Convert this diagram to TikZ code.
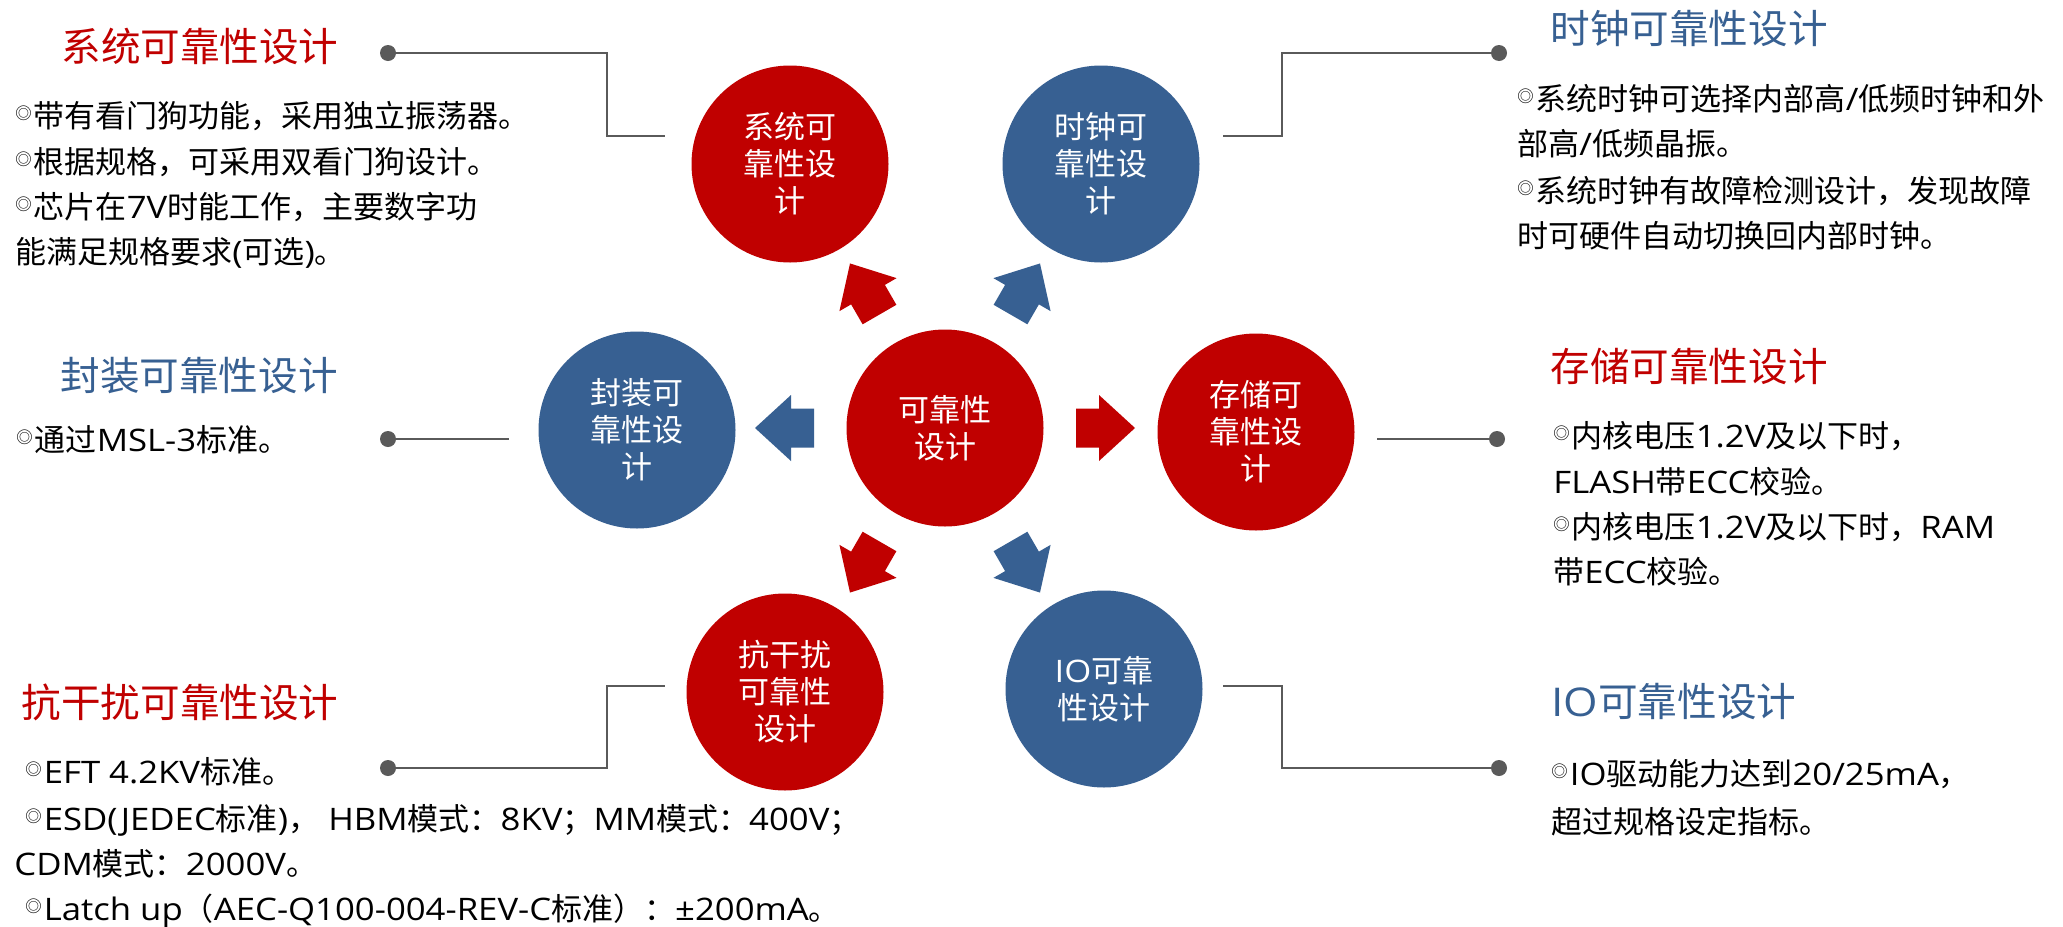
\documentclass[tikz,border=0pt]{standalone}
\usepackage{fontspec}
\setmainfont{Noto Sans CJK SC}
\newfontfamily\latf[FakeStretch=1.12]{Open Sans}
\newcommand{\lat}[1]{{\latf #1}}
\definecolor{myred}{HTML}{C00000}
\definecolor{myblue}{HTML}{376092}
\definecolor{conn}{HTML}{5A5A5A}
\newcommand{\bul}{\raisebox{3.8pt}{\fontsize{8.2pt}{8.2pt}\selectfont ◎}\kern1pt}
\begin{document}
\begin{tikzpicture}[x=0.5pt,y=-0.5pt,
 circ/.style={circle, minimum size=98.5pt, inner sep=0pt, text=white, align=center, font=\fontsize{15.5pt}{18.5pt}\selectfont},
 redc/.style={circ, fill=myred},
 bluec/.style={circ, fill=myblue},
 head/.style={inner sep=0pt, font=\fontsize{19.8pt}{24pt}\selectfont},
 body/.style={inner sep=0pt, anchor=base west, font=\fontsize{15.5pt}{18pt}\selectfont, text=black},
 dotnode/.style={circle, fill=conn, minimum size=8pt, inner sep=0pt},
 link/.style={draw=conn, line width=1.4pt},
]
\useasboundingbox[fill=white] (0,0) rectangle (2063,927);

% circles
\node[redc] (sys) at (790,164) {系统可\\靠性设\\计};
\node[bluec] (clk) at (1101,164) {时钟可\\靠性设\\计};
\node[bluec] (pkg) at (637,430) {封装可\\靠性设\\计};
\node[redc] (c) at (945,428) {可靠性\\设计};
\node[redc] (mem) at (1256,432) {存储可\\靠性设\\计};
\node[redc] (emi) at (785,692) {抗干扰\\可靠性\\设计};
\node[bluec] (io) at (1104,689) {\lat{IO}可靠\\性设计};

% block arrows
\foreach \a/\col in {0/myred,60/myblue,120/myred,180/myblue,240/myred,300/myblue}{
  \fill[\col, shift={(c.center)}, rotate=\a] (131,-19.5) -- (154,-19.5) -- (154,-33) -- (190,0) -- (154,33) -- (154,19.5) -- (131,19.5) -- cycle;
}

% connectors
\node[dotnode] (d1) at (388,53) {};
\coordinate (e1) at (665,136);
\draw[link] (d1.center) -- ++(219,0) |- (e1);

\node[dotnode] (d2) at (1499,53) {};
\coordinate (e2) at (1223,136);
\draw[link] (e2) -- ++(59,0) |- (d2.center);

\node[dotnode] (d3) at (388,439) {};
\coordinate (e3) at (509,439);
\draw[link] (d3.center) -- (e3);

\node[dotnode] (d4) at (1497,439) {};
\coordinate (e4) at (1377,439);
\draw[link] (e4) -- (d4.center);

\node[dotnode] (d5) at (388,768) {};
\coordinate (e5) at (665,686);
\draw[link] (d5.center) -- ++(219,0) |- (e5);

\node[dotnode] (d6) at (1499,768) {};
\coordinate (e6) at (1223,686);
\draw[link] (e6) -- ++(59,0) |- (d6.center);

% system block
\node[head, text=myred, anchor=base east] (h1) at (339,61) {系统可靠性设计};
\node[body] (b1a) at (15,127) {\bul 带有看门狗功能，采用独立振荡器。};
\node[body] (b1b) at (15,173) {\bul 根据规格，可采用双看门狗设计。};
\node[body] (b1c) at (15,218.5) {\bul 芯片在\lat{7V}时能工作，主要数字功};
\node[body] (b1d) at (15,263.5) {能满足规格要求\lat{(}可选\lat{)}。};

% clock block
\node[head, text=myblue, anchor=base west] (h2) at (1550,43.5) {时钟可靠性设计};
\node[body] (b2a) at (1517,110) {\bul 系统时钟可选择内部高\lat{/}低频时钟和外};
\node[body] (b2b) at (1517,155) {部高\lat{/}低频晶振。};
\node[body] (b2c) at (1517,202) {\bul 系统时钟有故障检测设计，发现故障};
\node[body] (b2d) at (1517,247) {时可硬件自动切换回内部时钟。};

% package block
\node[head, text=myblue, anchor=base east] (h3) at (338,390) {封装可靠性设计};
\node[body] (b3a) at (16,451) {\bul 通过\lat{MSL-3}标准。};

% memory block
\node[head, text=myred, anchor=base west] (h4) at (1550,381) {存储可靠性设计};
\node[body] (b4a) at (1553,447) {\bul 内核电压\lat{1.2V}及以下时，};
\node[body] (b4b) at (1553,493.5) {\lat{FLASH}带\lat{ECC}校验。};
\node[body] (b4c) at (1553,538.5) {\bul 内核电压\lat{1.2V}及以下时，\lat{RAM}};
\node[body] (b4d) at (1553,583.5) {带\lat{ECC}校验。};

% EMI block
\node[head, text=myred, anchor=base east] (h5) at (339,717.5) {抗干扰可靠性设计};
\node[body] (b5a) at (25,783.5) {\bul \lat{EFT 4.2KV}标准。};
\node[body] (b5b) at (25,830) {\bul \lat{ESD(JEDEC}标准\lat{)}，\lat{ HBM}模式：\lat{8KV}；\lat{MM}模式：\lat{400V}；};
\node[body] (b5c) at (14,875) {\lat{CDM}模式：\lat{2000V}。};
\node[body] (b5d) at (25,920) {\bul \lat{Latch up}（\lat{AEC-Q100-004-REV-C}标准）：\lat{±200mA}。};

% IO block
\node[head, text=myblue, anchor=base west] (h6) at (1551,716.7) {\lat{IO}可靠性设计};
\node[body] (b6a) at (1551,785) {\bul \lat{IO}驱动能力达到\lat{20/25mA}，};
\node[body] (b6b) at (1551,833) {超过规格设定指标。};
\end{tikzpicture}
\end{document}
